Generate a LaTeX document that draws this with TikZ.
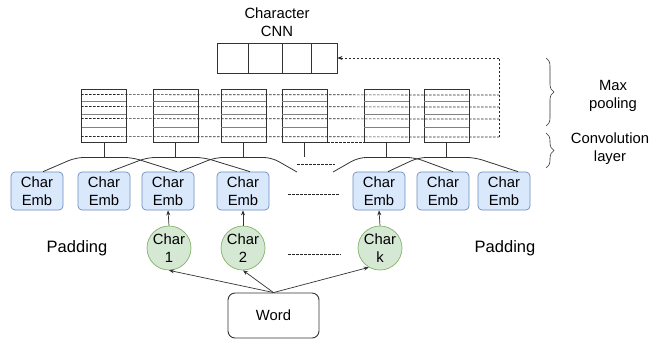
\documentclass[tikz,border=0pt]{standalone}
\usepackage{fontspec}
\setmainfont{Liberation Sans}
\usetikzlibrary{calc,decorations.pathreplacing,arrows.meta}
\definecolor{embfill}{HTML}{DAE8FC}
\definecolor{embline}{HTML}{6C8EBF}
\definecolor{chfill}{HTML}{D5E8D4}
\definecolor{chline}{HTML}{82B366}
\definecolor{ink}{HTML}{333333}
\definecolor{inner}{HTML}{808080}
\begin{document}
\begin{tikzpicture}[x=1pt,y=-1pt,
  txt/.style={font=\fontsize{14.8}{18}\selectfont, align=center, inner sep=0pt},
  bigtxt/.style={font=\fontsize{16.5}{20}\selectfont, inner sep=0pt},
  emb/.style={draw=embline, fill=embfill, rounded corners=4pt, minimum width=52pt, minimum height=38pt, txt, line width=0.7pt},
  chr/.style={draw=chline, fill=chfill, circle, minimum size=44pt, txt, line width=0.7pt},
  pool/.style={draw=ink, minimum width=45pt, minimum height=53pt, inner sep=0pt, line width=0.9pt},
  innerline/.style={draw=inner, line width=1pt},
  dsh/.style={draw=black!85, dash pattern=on 2.5pt off 1.5pt, line width=0.7pt},
  conv/.style={draw=ink, line width=0.8pt},
  roof/.style={conv, rounded corners=8pt},
  arr/.style={draw=ink, line width=0.7pt, -{Stealth[length=5pt,width=4pt]}},
  brc/.style={draw=ink, line width=0.6pt, decorate, decoration={brace, amplitude=8pt}}
]
\useasboundingbox (0,0) rectangle (652,341);

% Character CNN
\node[txt] (cnnlabel) at (277,22) {Character\\CNN};
\node[draw=ink, line width=0.9pt, minimum width=120pt, minimum height=30pt, inner sep=0pt] (cnn) at (277,58) {};
\draw[ink, line width=0.9pt] (248,43) -- (248,73) (282,43) -- (282,73) (311,43) -- (311,73);

% pooling boxes
\foreach \n/\x in {1/104, 2/175.5, 3/243.5, 4/304.5, 5/386.5, 6/446.5}{
  \node[pool] (p\n) at (\x,115.5) {};
  \foreach \d in {13,26,39}{
    \draw[innerline] ($(p\n.north west)+(0.5,\d)$) -- ($(p\n.north east)+(-0.5,\d)$);
  }
}

% dashed max-pooling lines
\coordinate (vtop) at (499,58);
\coordinate (vbot) at (499,137);
\foreach \y in {95,107,119}{
  \draw[dsh] ($(p1.north west)+(0,\y-89)$) -- (499,\y);
}
\draw[dsh] ($(p1.north west)+(0,48)$) -- (vbot);
\draw[dsh] (vbot) -- (vtop);
\draw[dsh, -{Stealth[length=5pt,width=4pt]}] (vtop) -- (cnn.east);
\draw[dsh] (p4.south east) -- (p5.south west);

% embeddings
\foreach \n/\x in {1/37, 2/104, 3/168, 4/243, 5/379, 6/443, 7/504}{
  \node[emb] (e\n) at (\x,191) {Char\\Emb};
}

% convolution stems and roofs
\foreach \n in {1,2,3,4,5,6}{
  \draw[conv] (p\n.south) -- ++(0,15) coordinate (s\n);
}
\draw[roof] ($(e1.north)+(6,0)$) -- ($(s1)+(-28,0)$) -- ($(s1)+(28,0)$) -- ($(e3.north)+(9,0)$);
\draw[roof] ($(e2.north)+(6,0)$) -- ($(s2)+(-28,0)$) -- ($(s2)+(28,0)$) -- ($(e4.north)+(7,0)$);
\coordinate (f3) at (297,172);
\coordinate (f5) at (333,172);
\draw[roof] ($(e3.north)+(12,0)$) -- ($(s3)+(-28,0)$) -- ($(s3)+(28,0)$) -- (f3);
\draw[roof] (f5) -- ($(s5)+(-28,0)$) -- ($(s5)+(28,0)$) -- ($(e6.north)+(10,0)$);
\draw[roof] ($(e5.north)+(9,0)$) -- ($(s6)+(-28,0)$) -- ($(s6)+(28,0)$) -- ($(e7.north)+(14,0)$);

% dotted gaps
\coordinate (g1a) at (297,164); \coordinate (g1b) at (335,164);
\draw[dsh] (g1a) -- (g1b);
\coordinate (g2a) at (288,194); \coordinate (g2b) at (340,194);
\draw[dsh] (g2a) -- (g2b);
\coordinate (g3a) at (288,254); \coordinate (g3b) at (341,254);
\draw[dsh] (g3a) -- (g3b);

% characters
\node[chr] (c1) at (169,248) {Char\\1};
\node[chr] (c2) at (243,248) {Char\\2};
\node[chr] (ck) at (380,248) {Char\\k};
\draw[arr] (c1.north) -- (e3.south);
\draw[arr] (c2.north) -- (e4.south);
\draw[arr] (ck.north) -- (e5.south);

% word
\node[draw=ink, line width=0.9pt, rounded corners=7pt, minimum width=91pt, minimum height=45pt, txt] (w) at (273.5,315.5) {Word};
\draw[arr] (w.north) -- (c1.south);
\draw[arr] (w.north) -- (c2.south);
\draw[arr] (w.north) -- (ck.240);

% padding labels
\node[bigtxt] (padl) at (77,248) {Padding};
\node[bigtxt] (padr) at (505,248) {Padding};

% braces
\coordinate (b1t) at (546,58); \coordinate (b1b) at (546,126);
\coordinate (b2t) at (546,133); \coordinate (b2b) at (546,168);
\draw[brc] (b1t) -- (b1b);
\draw[brc] (b2t) -- (b2b);
\node[txt] (mp) at (613,96) {Max\\pooling};
\node[txt] (cl) at (610,149) {Convolution\\layer};
\end{tikzpicture}
\end{document}
